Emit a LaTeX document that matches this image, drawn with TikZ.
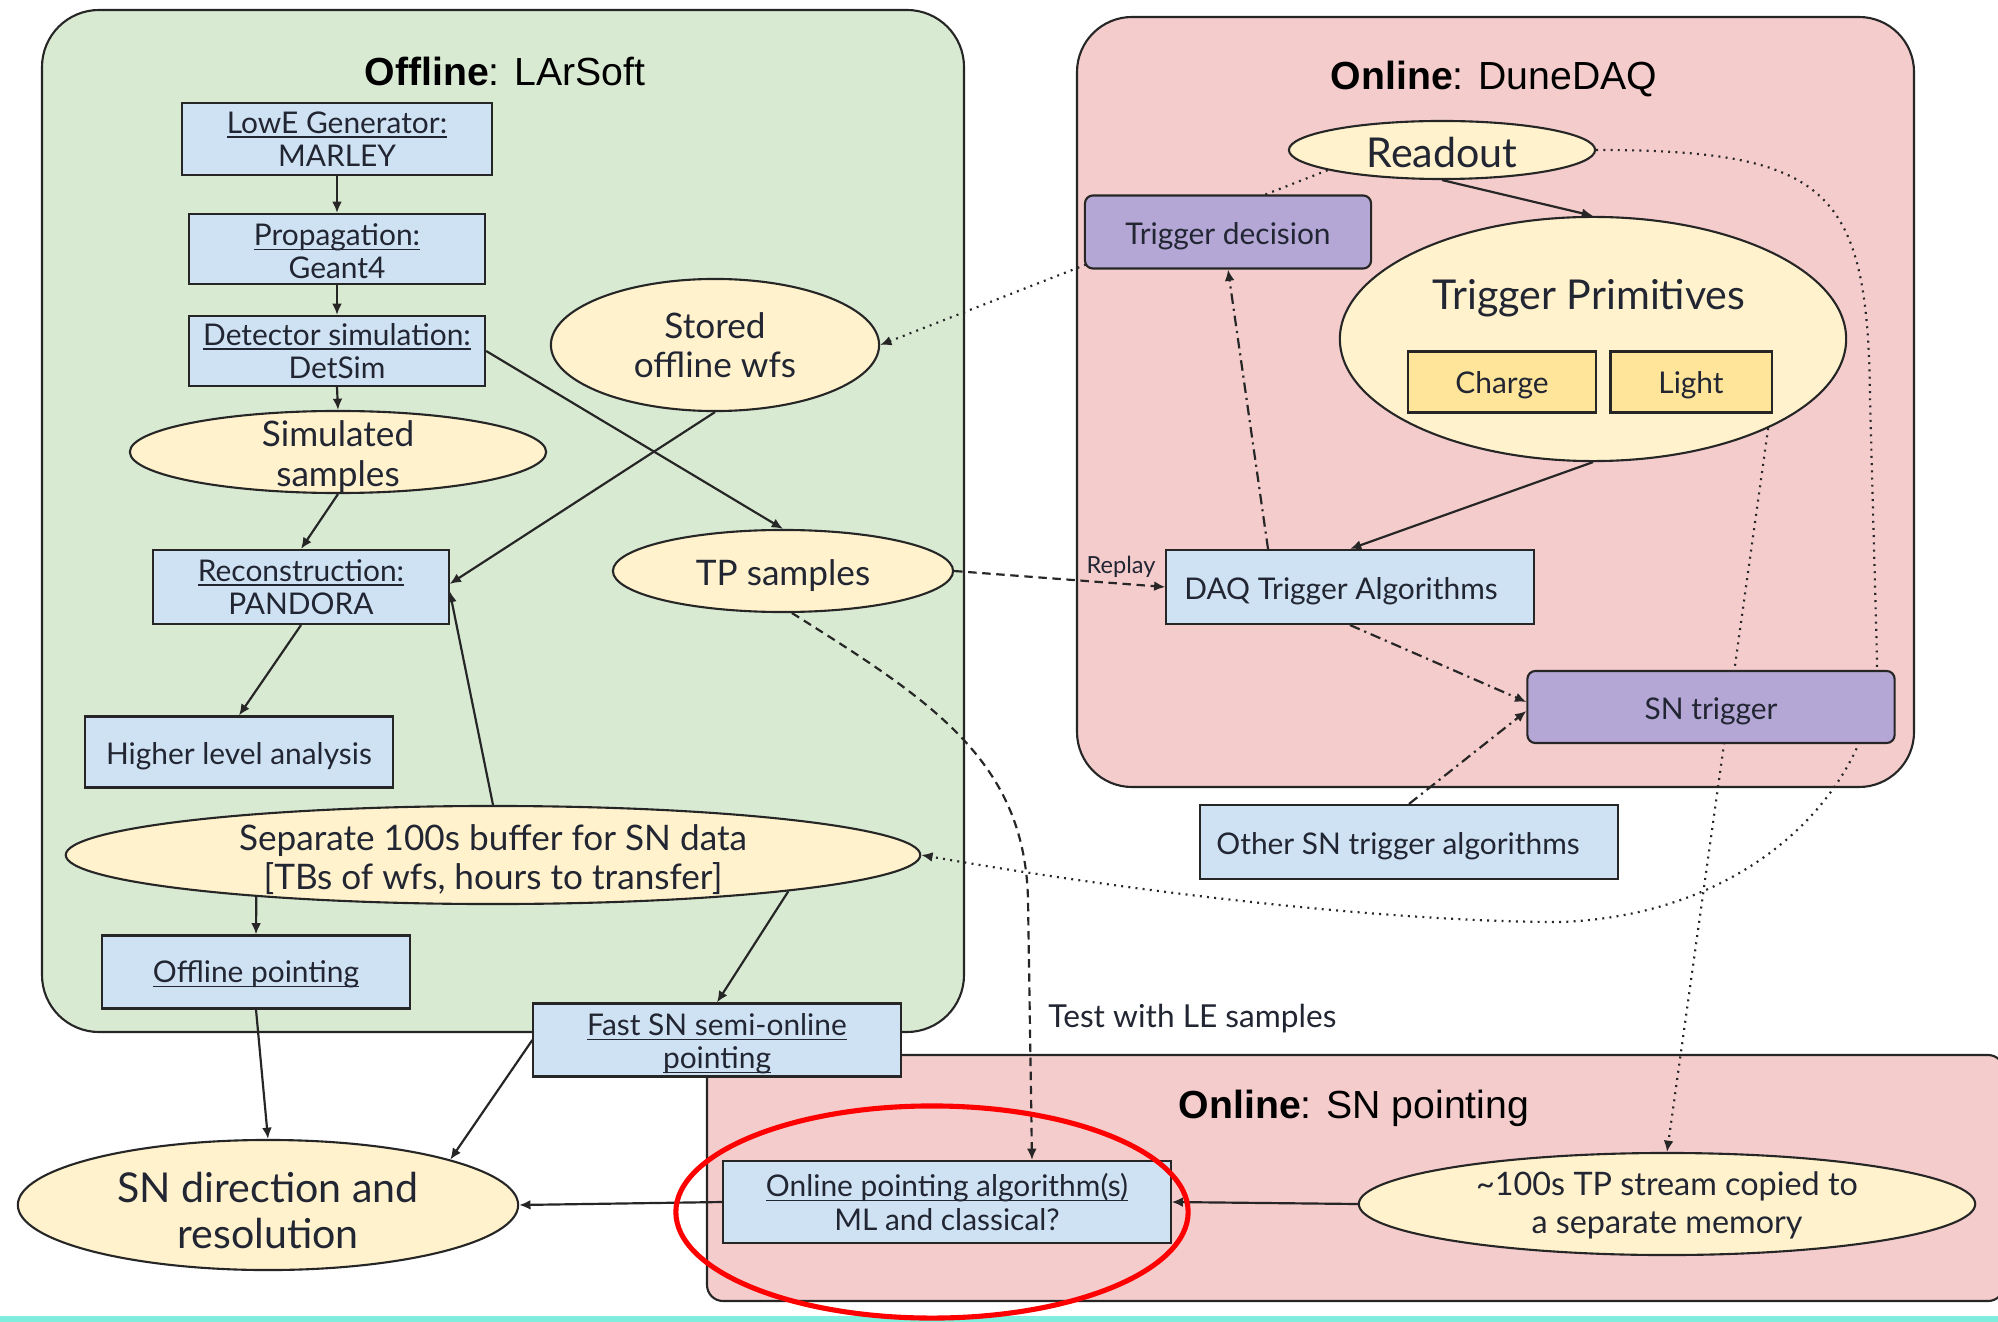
\documentclass[tikz,border=0pt]{standalone}
\usepackage{fontspec}
\setmainfont{Lato}
\newfontfamily\titlefont{Liberation Sans}
\usetikzlibrary{shapes.geometric,arrows.meta,calc}
\pgfdeclarelayer{panels}\pgfdeclarelayer{lines}\pgfdeclarelayer{top}
\pgfsetlayers{panels,lines,main,top}
\newlength{\upx}\setlength{\upx}{0.1mm}
\newcommand\lnk[1]{\setbox0\hbox{#1}\rlap{\rule[-1.25pt]{\wd0}{0.45pt}}\box0}
\newcommand\tstrut{\rule{0pt}{1em}}
\definecolor{pgreen}{HTML}{D9EAD3}
\definecolor{ppink}{HTML}{F4CCCC}
\definecolor{bblue}{HTML}{CFE2F3}
\definecolor{eyellow}{HTML}{FFF2CC}
\definecolor{byellow}{HTML}{FFE599}
\definecolor{bpurple}{HTML}{B4A7D6}
\definecolor{txt}{HTML}{222633}
\definecolor{bandcyan}{HTML}{80EEDD}
\tikzset{
 fA/.style={font=\fontsize{8.5}{9.4}\selectfont},
 fB/.style={font=\fontsize{10}{11.2}\selectfont},
 fC/.style={font=\fontsize{11.7}{13.1}\selectfont},
 fT/.style={font=\titlefont\fontsize{11.15}{13}\selectfont, anchor=base},
 wh/.style 2 args={minimum width=#1\upx, minimum height=#2\upx},
 bluebox/.style={draw=black!85, line width=0.6pt, fill=bblue, text=txt, align=center, inner sep=0pt, fA},
 ybox/.style={draw=black!85, line width=0.6pt, fill=byellow, text=txt, align=center, inner sep=0pt, fA},
 purplebox/.style={draw=black!85, line width=0.6pt, fill=bpurple, rounded corners=0.8mm, text=txt, align=center, inner sep=0pt, fA},
 yell/.style={ellipse, draw=black!85, line width=0.6pt, fill=eyellow, text=txt, align=center, inner xsep=0pt, inner ysep=-7pt},
 panel/.style={draw=black!85, line width=0.6pt},
 conn/.style={line width=0.62pt, draw=black!85, -{Latex[length=3.2pt,width=2.8pt]}},
 dashedconn/.style={conn, dash pattern=on 2.4pt off 1.6pt},
 dottedconn/.style={conn, dash pattern=on 0.55pt off 1.5pt},
 dashdotconn/.style={conn, dash pattern=on 3pt off 1.4pt on 0.6pt off 1.4pt},
}
\begin{document}
\begin{tikzpicture}[x=0.01cm,y=-0.01cm]
\useasboundingbox (0,0) rectangle (1998,1322);
% panels
\begin{pgfonlayer}{panels}
\fill[white] (0,0) rectangle (1998,1322);
\draw[panel, fill=pgreen, rounded corners=5.7mm] (42,10) rectangle (964,1032);
\draw[panel, fill=ppink, rounded corners=5.5mm] (1077,17) rectangle (1914,787);
\draw[panel, fill=ppink, rounded corners=1.6mm] (707,1055) rectangle (2004,1301);
\fill[bandcyan] (0,1316) rectangle (1998,1322);
\end{pgfonlayer}
% titles
\node[fT] (tOff) at (505,86) {\textbf{Offline}: LArSoft};
\node[fT] (tDaq) at (1494,90) {\textbf{Online}: DuneDAQ};
\node[fT] (tSNp) at (1354,1118) {\textbf{Online}: SN pointing};
% offline nodes
\node[bluebox, wh={310}{72}] (lowe) at (337,139) {\lnk{LowE Generator:}\\MARLEY};
\node[bluebox, wh={296}{70}] (prop) at (337,249) {\rule{0pt}{0.9em}\lnk{Propagation:}\\Geant4};
\node[bluebox, wh={296}{70}] (det) at (337,351) {\lnk{Detector simulation:}\\DetSim};
\node[yell, fB, wh={416}{82}] (sim) at (338,452) {\tstrut Simulated\\samples};
\node[yell, fB, wh={328}{132}] (stored) at (715,345) {Stored\\offline wfs};
\node[bluebox, wh={295}{74}] (reco) at (301,587) {\lnk{Reconstruction:}\\PANDORA};
\node[yell, fB, wh={340}{82}] (tps) at (783,571) {\tstrut TP samples};
\node[bluebox, wh={307}{71}] (hla) at (239,752) {\tstrut Higher level analysis};
\node[yell, fB, wh={854}{98}] (buf) at (493,855) {\tstrut Separate 100s buffer for SN data\\{[TBs of wfs, hours to transfer]}};
\node[bluebox, wh={307}{73}] (off) at (256,972) {\rule{0pt}{0.9em}\lnk{Offline pointing}};
\node[bluebox, wh={367}{73}] (fast) at (717,1040) {\tstrut\lnk{Fast SN semi-online}\\\lnk{pointing}};
\node[yell, fC, wh={500}{130}] (snd) at (268,1205) {\tstrut SN direction and\\resolution};
\node[bluebox, wh={447}{82}] (online) at (947,1202) {\lnk{Online pointing algorithm(s)}\\ML and classical?};
\node[yell, font=\fontsize{9.2}{10.8}\selectfont, wh={616}{102}] (stream) at (1667,1204) {\rule{0pt}{0.85em}\textasciitilde100s TP stream copied to\\a separate memory};
% online nodes
\node[yell, fC, wh={306}{58}] (readout) at (1442,150) {\rule{0pt}{0.85em}Readout};
\node[purplebox, wh={286}{73}] (td) at (1228,232) {\tstrut Trigger decision};
\node[yell, wh={506}{244}] (tp) at (1593,339) {};
\node[fC, text=txt] (tplabel) at (1589,298) {Trigger Primitives};
\node[ybox, wh={188}{61}] (charge) at (1502,382) {\rule{0pt}{0.95em}Charge};
\node[ybox, wh={161}{61}] (light) at (1691,382) {\rule{0pt}{0.95em}Light};
\node[bluebox, wh={367}{74}] (daq) at (1350,587) {\tstrut DAQ Trigger Algorithms\hspace{18\upx}};
\node[purplebox, wh={367}{72}] (snt) at (1711,707) {\tstrut SN trigger};
\node[bluebox, wh={418}{74}] (other) at (1409,842) {\tstrut Other SN trigger algorithms\hspace{22\upx}};
% labels
\node[text=txt, font=\fontsize{6.7}{8}\selectfont] (replay) at (1121,567) {Replay};
\node[text=txt, font=\fontsize{9}{10}\selectfont, anchor=west] (testle) at (1036,1019) {Test with LE samples};
% connectors
\begin{pgfonlayer}{lines}
\draw[conn] (lowe.south) -- (prop.north);
\draw[conn] (prop.south) -- (det.north);
\draw[conn] (det.south) -- (sim.north);
\draw[conn] (det.east) -- (tps.north);
\draw[conn] (stored.south) -- ($(reco.east)+(0,-3)$);
\draw[conn] (sim.south) -- (reco.north);
\draw[conn] (reco.south) -- (hla.north);
\draw[conn] (buf.north) -- ($(reco.east)+(0,4)$);
\draw[conn] (buf.190) -- (off.north);
\draw[conn] (buf.353) -- (fast.north);
\draw[conn] (off.south) -- (snd.north);
\draw[conn] (fast.west) -- (snd.14);
\draw[conn] (online.west) -- (snd.east);
\draw[conn] (stream.west) -- (online.east);
\draw[dashedconn] (tps.east) -- (daq.west);
\draw[dashedconn] (tps.-78) .. controls (930,700) and (1025,760) .. (1028,900) -- ($(online.north)+(85,0)$);
\draw[conn] (readout.south) -- (tp.north);
\draw[dottedconn] (readout.190) -- (stored.east);
\draw[dashdotconn] ($(daq.north)+(-82,0)$) -- (td.south);
\draw[conn] (tp.south) -- (daq.north);
\draw[dashdotconn] (daq.south) -- ($(snt.west)+(0,-5)$);
\draw[dashdotconn] (other.north) -- ($(snt.west)+(0,4)$);
\draw[dottedconn] (readout.east) .. controls (1830,150) and (1868,190) .. (1870,400) -- (1877,660) .. controls (1877,780) and (1760,915) .. (1560,922) .. controls (1400,922) and (1150,895) .. (buf.east);
\draw[dottedconn] (tp.-27) -- (stream.north);
\end{pgfonlayer}
% highlight
\begin{pgfonlayer}{top}
\draw[red, line width=1.45pt] (932,1212) ellipse [x radius=25.6mm, y radius=10.6mm];
\end{pgfonlayer}
\end{tikzpicture}
\end{document}
